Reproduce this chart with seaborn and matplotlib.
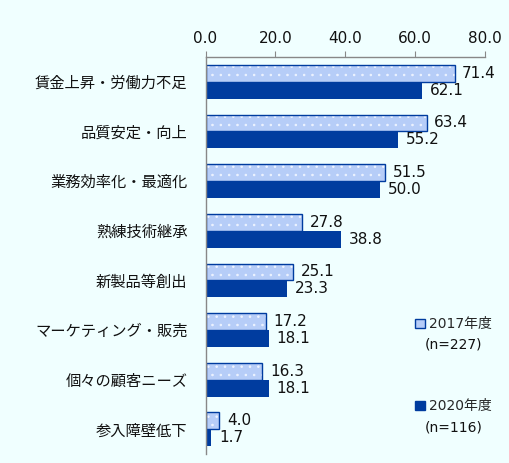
import matplotlib
matplotlib.use("Agg")
import matplotlib.pyplot as plt
import matplotlib.patches as mpatches
import pandas as pd
import seaborn as sns

categories = ["賃金上昇・労働力不足", "品質安定・向上", "業務効率化・最適化", "熟練技術継承",
              "新製品等創出", "マーケティング・販売", "個々の顧客ニーズ", "参入障壁低下"]
v2017 = [71.4, 63.4, 51.5, 27.8, 25.1, 17.2, 16.3, 4.0]
v2020 = [62.1, 55.2, 50.0, 38.8, 23.3, 18.1, 18.1, 1.7]
years = ["2017年度", "2020年度"]
sample_n = ["(n=227)", "(n=116)"]
xticks = [0, 20, 40, 60, 80]

light = "#b6cdf8"
dark = "#003c9f"
bg = "#f0ffff"

df = pd.DataFrame({
    "cat": categories * 2,
    "val": v2017 + v2020,
    "year": [years[0]] * len(categories) + [years[1]] * len(categories),
})

sns.set_style("white")
plt.rcParams["font.family"] = ["DejaVu Sans", "Noto Sans CJK JP"]
plt.rcParams["hatch.linewidth"] = 0.6

fig = plt.figure(figsize=(5.1, 4.63), dpi=100, facecolor=bg)
ax = fig.add_axes([0.403, 0.019, 0.547, 0.858])
ax.set_facecolor(bg)

sns.barplot(data=df, y="cat", x="val", hue="year", order=categories,
            palette=[light, dark], width=0.68, orient="h", ax=ax,
            legend=False, linewidth=0, saturation=1)

cont17, cont20 = ax.containers[0], ax.containers[1]
for p in cont17:
    p.set_hatch("..")
    p.set_edgecolor("#eef4ff")
    p.set_linewidth(0)
    ax.add_patch(mpatches.Rectangle(p.get_xy(), p.get_width(), p.get_height(),
                                    facecolor="none", edgecolor=dark, linewidth=1.0))

for cont, vals in [(cont17, v2017), (cont20, v2020)]:
    for p, v in zip(cont, vals):
        ax.text(p.get_width() + 2.2, p.get_y() + p.get_height() / 2, f"{v:.1f}",
                va="center", ha="left", fontsize=11, color="#111111")

ax.set_xlim(0, 80)
ax.set_ylim(len(categories) - 0.5, -0.5)
ax.set_xticks(xticks)
ax.set_xticklabels([f"{t:.1f}" for t in xticks], fontsize=11, color="#111111")
ax.xaxis.tick_top()
ax.tick_params(axis="x", direction="out", length=4, color="#888888", pad=4)
ax.set_yticks(range(len(categories)))
ax.set_yticklabels(categories, fontsize=11, color="#111111")
ax.set_yticks([i - 0.5 for i in range(len(categories) + 1)], minor=True)
ax.tick_params(axis="y", which="major", length=0, pad=13)
ax.tick_params(axis="y", which="minor", length=5, color="#888888")
ax.set_xlabel("")
ax.set_ylabel("")
for s in ["right", "bottom"]:
    ax.spines[s].set_visible(False)
for s in ["left", "top"]:
    ax.spines[s].set_color("#888888")
    ax.spines[s].set_linewidth(1.0)

h17 = mpatches.Patch(facecolor=light, edgecolor=dark, linewidth=1.0)
h20 = mpatches.Patch(facecolor=dark, edgecolor=dark)
ax.legend([h17, h20], years, loc="upper left", bbox_to_anchor=(0.726, 0.362),
          frameon=False, fontsize=10, handlelength=0.7, handleheight=0.7,
          handletextpad=0.3, labelspacing=4.9, borderpad=0)
ax.text(0.786, 0.275, sample_n[0], transform=ax.transAxes, fontsize=10,
        va="center", ha="left", color="#111111")
ax.text(0.786, 0.066, sample_n[1], transform=ax.transAxes, fontsize=10,
        va="center", ha="left", color="#111111")

fig.savefig("out.png", dpi=100, facecolor=bg)
